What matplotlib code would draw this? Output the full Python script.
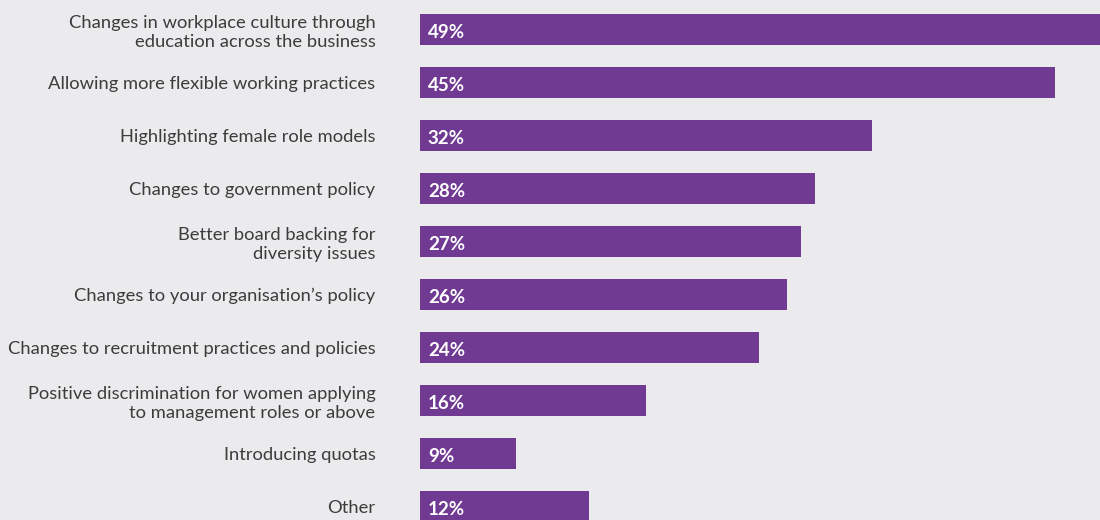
import matplotlib
matplotlib.use("Agg")
import matplotlib.pyplot as plt

categories = [
    "Changes in workplace culture through\neducation across the business",
    "Allowing more flexible working practices",
    "Highlighting female role models",
    "Changes to government policy",
    "Better board backing for\ndiversity issues",
    "Changes to your organisation\u2019s policy",
    "Changes to recruitment practices and policies",
    "Positive discrimination for women applying\nto management roles or above",
    "Introducing quotas",
    "Other",
]
# bar lengths as drawn in the picture (the 9% bar is drawn shorter than its label)
bar_lengths = [49, 45, 32, 28, 27, 26, 24, 16, 6.8, 12]
value_labels = ["49%", "45%", "32%", "28%", "27%", "26%", "24%", "16%", "9%", "12%"]

bg = "#EBEBED"
bar_color = "#703A93"
text_color = "#3C3C3C"

plt.rcParams['font.family'] = ['Lato', 'DejaVu Sans']

fig = plt.figure(figsize=(11, 5.2), dpi=100, facecolor=bg)
ax = fig.add_axes([420 / 1100, 0, 680 / 1100, 1])
ax.set_facecolor(bg)

ypos = list(range(len(categories)))
ax.barh(ypos, bar_lengths, height=31 / 53, color=bar_color, linewidth=0)

for y, lab in zip(ypos, value_labels):
    ax.text(0.55, y + 0.05, lab, color="white", fontsize=13.5, fontweight="bold",
            va="center", ha="left")

ax.set_xlim(0, 680 / 14.11)
ax.set_ylim((520 - 29.5) / 53, -29.5 / 53)
ax.set_yticks(ypos)
ax.set_yticklabels(categories, fontsize=13.2, color=text_color, linespacing=1.25)
ax.tick_params(axis="y", length=0, pad=32)
ax.set_xticks([])
for s in ax.spines.values():
    s.set_visible(False)

fig.savefig("out.png", dpi=100, facecolor=bg)
